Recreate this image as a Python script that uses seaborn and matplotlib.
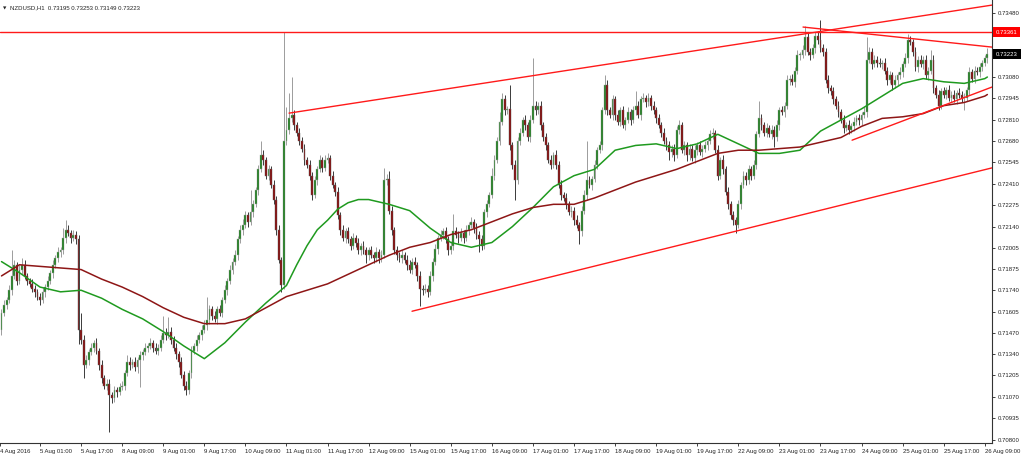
import numpy as np
import pandas as pd
import matplotlib
matplotlib.use("Agg")
import matplotlib.pyplot as plt
import matplotlib.transforms as mtransforms
import seaborn as sns

# NZDUSD H1, one close per hourly bar (open = previous close)
first_bar = -15
first_open = 0.7149
closes = [
    0.7160, 0.7165, 0.7168, 0.7174, 0.7183, 0.7190, 0.7180, 0.7187, 0.7190, 0.7183, 0.7180, 0.7178, 0.7175, 0.7173, 0.7170,
    0.7168, 0.7173, 0.7176, 0.7180, 0.7185, 0.7190, 0.7194, 0.7198, 0.7199, 0.7207, 0.7212, 0.7210, 0.7207, 0.7209, 0.7206, 0.7149,
    0.7143, 0.7127, 0.7130, 0.7135, 0.7138, 0.7141, 0.7136, 0.7127, 0.7119, 0.7114, 0.7115, 0.7108, 0.7106, 0.7111, 0.7110, 0.7113,
    0.7114, 0.7122, 0.7129, 0.7127, 0.7129, 0.7126, 0.7130, 0.7133, 0.7135, 0.7138, 0.7139, 0.7141, 0.7138, 0.7136, 0.7138, 0.7143,
    0.7147, 0.7146, 0.7148, 0.7143, 0.7138, 0.7134, 0.7129, 0.7121, 0.7114, 0.7111, 0.7122, 0.7136, 0.7139, 0.7143, 0.7146, 0.7149,
    0.7152, 0.7155, 0.7162, 0.7158, 0.7156, 0.7162, 0.7160, 0.7168, 0.7174, 0.7180, 0.7187, 0.7192, 0.7196, 0.7206, 0.7212, 0.7215,
    0.7221, 0.7217, 0.7223, 0.7228, 0.7237, 0.7250, 0.7259, 0.7256, 0.7246, 0.7250, 0.7240, 0.7231, 0.7212, 0.7193, 0.7177, 0.7268,
    0.7275, 0.7282, 0.7284, 0.7278, 0.7273, 0.7268, 0.7263, 0.7256, 0.7253, 0.7246, 0.7234, 0.7243, 0.7250, 0.7256, 0.7251, 0.7256,
    0.7257, 0.7246, 0.7240, 0.7236, 0.7221, 0.7212, 0.7207, 0.7211, 0.7206, 0.7202, 0.7207, 0.7204, 0.7199, 0.7202, 0.7199, 0.7196,
    0.7199, 0.7196, 0.7194, 0.7198, 0.7194, 0.7196, 0.7243, 0.7244, 0.7224, 0.7212, 0.7199, 0.7196, 0.7194, 0.7196, 0.7193, 0.7190,
    0.7187, 0.7192, 0.7190, 0.7183, 0.7175, 0.7174, 0.7175, 0.7173, 0.7183, 0.7192, 0.7200, 0.7207, 0.7209, 0.7211, 0.7206, 0.7199,
    0.7202, 0.7211, 0.7209, 0.7207, 0.7210, 0.7207, 0.7212, 0.7215, 0.7217, 0.7213, 0.7209, 0.7206, 0.7202, 0.7223, 0.7228, 0.7234,
    0.7246, 0.7256, 0.7268, 0.7280, 0.7294, 0.7287, 0.7288, 0.7265, 0.7253, 0.7243, 0.7268, 0.7273, 0.7281, 0.7278, 0.7270, 0.7281,
    0.7290, 0.7287, 0.7290, 0.7278, 0.7270, 0.7265, 0.7256, 0.7253, 0.7259, 0.7253, 0.7240, 0.7234, 0.7232, 0.7228, 0.7223, 0.7224,
    0.7218, 0.7215, 0.7211, 0.7224, 0.7234, 0.7243, 0.7240, 0.7244, 0.7253, 0.7262, 0.7265, 0.7287, 0.7303, 0.7287, 0.7284, 0.7294,
    0.7284, 0.7280, 0.7287, 0.7278, 0.7281, 0.7286, 0.7281, 0.7287, 0.7290, 0.7284, 0.7294, 0.7295, 0.7292, 0.7295, 0.7290, 0.7287,
    0.7282, 0.7278, 0.7273, 0.7268, 0.7265, 0.7261, 0.7263, 0.7259, 0.7275, 0.7278, 0.7262, 0.7265, 0.7259, 0.7263, 0.7257, 0.7262,
    0.7265, 0.7261, 0.7263, 0.7265, 0.7268, 0.7272, 0.7273, 0.7262, 0.7246, 0.7256, 0.7250, 0.7236, 0.7228, 0.7221, 0.7218, 0.7215,
    0.7228, 0.7240, 0.7246, 0.7243, 0.7250, 0.7246, 0.7253, 0.7272, 0.7282, 0.7278, 0.7273, 0.7276, 0.7272, 0.7275, 0.7270, 0.7278,
    0.7287, 0.7286, 0.7290, 0.7306, 0.7307, 0.7305, 0.7312, 0.7322, 0.7322, 0.7325, 0.7333, 0.7324, 0.7322, 0.7326, 0.7334, 0.7331,
    0.7326, 0.7324, 0.7306, 0.7301, 0.7299, 0.7294, 0.7290, 0.7286, 0.7281, 0.7276, 0.7278, 0.7275, 0.7277, 0.7280, 0.7282, 0.7281,
    0.7284, 0.7286, 0.7319, 0.7324, 0.7316, 0.7319, 0.7317, 0.7316, 0.7317, 0.7312, 0.7306, 0.7309, 0.7303, 0.7306, 0.7309, 0.7311,
    0.7316, 0.7320, 0.7331, 0.7330, 0.7324, 0.7314, 0.7319, 0.7316, 0.7319, 0.7309, 0.7312, 0.7319, 0.7301, 0.7297, 0.7290, 0.7299,
    0.7297, 0.7300, 0.7295, 0.7297, 0.7294, 0.7298, 0.7297, 0.7295, 0.7295, 0.7300, 0.7311, 0.7307, 0.7312, 0.7311, 0.7314, 0.7317,
    0.7320, 0.73223,
]
# wick lengths above / below the body, in pips
wick_up = [
    2, 3, 2, 3, 16, 3, 2, 3, 4, 3, 2, 2, 3, 2, 2,
    2, 3, 2, 3, 2, 3, 2, 3, 2, 6, 6, 3, 2, 3, 2, 3,
    11, 3, 3, 2, 3, 2, 3, 2, 3, 2, 3, 3, 2, 3, 2, 3,
    3, 2, 4, 3, 2, 3, 2, 3, 2, 3, 2, 3, 2, 3, 2, 3,
    11, 3, 9, 3, 2, 3, 2, 3, 2, 3, 2, 3, 2, 3, 2, 3,
    3, 15, 3, 2, 3, 2, 3, 2, 3, 2, 3, 2, 3, 2, 3, 4,
    3, 2, 14, 3, 2, 3, 9, 3, 2, 3, 2, 3, 2, 3, 2, 68,
    14, 16, 24, 3, 2, 3, 2, 3, 2, 3, 2, 3, 2, 3, 2, 3,
    3, 2, 3, 2, 3, 2, 3, 2, 3, 2, 3, 2, 3, 2, 3, 2,
    2, 3, 2, 3, 2, 3, 8, 3, 5, 3, 2, 3, 2, 3, 2, 3,
    3, 2, 3, 2, 3, 2, 3, 2, 3, 2, 3, 2, 3, 2, 3, 2,
    3, 11, 3, 2, 3, 2, 3, 2, 3, 2, 3, 2, 3, 2, 3, 2,
    5, 3, 2, 6, 4, 3, 2, 15, 2, 3, 2, 3, 2, 3, 2, 3,
    30, 3, 2, 3, 2, 3, 2, 3, 2, 3, 2, 3, 2, 3, 2, 3,
    2, 3, 2, 3, 3, 25, 3, 2, 3, 2, 3, 2, 6, 3, 2, 3,
    2, 3, 2, 3, 2, 3, 2, 3, 9, 3, 2, 3, 2, 3, 2, 3,
    2, 3, 2, 3, 2, 3, 2, 3, 2, 3, 2, 3, 2, 3, 2, 3,
    2, 3, 2, 3, 2, 3, 3, 2, 3, 2, 3, 2, 3, 2, 3, 2,
    3, 2, 3, 2, 3, 2, 3, 2, 11, 3, 2, 3, 2, 3, 2, 3,
    2, 3, 2, 3, 2, 3, 2, 3, 2, 3, 7, 3, 2, 3, 2, 3,
    13, 3, 2, 3, 2, 3, 2, 3, 2, 3, 2, 3, 2, 3, 2, 3,
    2, 3, 14, 3, 2, 3, 2, 3, 2, 3, 2, 3, 2, 3, 2, 3,
    2, 3, 4, 3, 2, 3, 2, 3, 2, 3, 2, 6, 3, 2, 3, 2,
    3, 2, 3, 2, 3, 2, 3, 2, 3, 2, 3, 2, 3, 2, 3, 2,
    2, 4,
]
wick_dn = [
    3, 2, 3, 2, 3, 2, 3, 2, 3, 2, 3, 2, 2, 3, 2,
    3, 2, 3, 2, 2, 3, 2, 2, 3, 2, 3, 2, 3, 2, 3, 9,
    3, 8, 2, 3, 2, 3, 2, 3, 3, 2, 3, 23, 3, 2, 3, 2,
    2, 3, 2, 3, 2, 3, 4, 17, 3, 2, 3, 2, 3, 2, 3, 2,
    2, 3, 2, 3, 2, 3, 3, 2, 3, 3, 2, 3, 2, 3, 2, 3,
    2, 3, 2, 3, 2, 3, 2, 3, 2, 3, 2, 3, 2, 3, 2, 3,
    2, 3, 2, 3, 2, 3, 2, 3, 2, 3, 2, 3, 3, 2, 4, 2,
    3, 3, 2, 3, 2, 3, 2, 3, 2, 3, 3, 2, 3, 2, 3, 2,
    2, 3, 2, 3, 2, 3, 2, 3, 2, 3, 2, 3, 2, 3, 2, 5,
    3, 2, 3, 2, 3, 2, 2, 3, 2, 3, 2, 3, 2, 3, 2, 3,
    2, 3, 2, 3, 11, 3, 2, 3, 2, 3, 2, 3, 2, 3, 2, 3,
    2, 3, 2, 3, 2, 3, 2, 3, 2, 3, 3, 8, 3, 2, 3, 2,
    2, 3, 2, 3, 2, 3, 2, 3, 3, 12, 2, 3, 2, 3, 2, 3,
    2, 3, 2, 3, 2, 3, 2, 3, 2, 3, 2, 3, 2, 3, 2, 3,
    3, 2, 8, 3, 2, 3, 2, 3, 2, 3, 2, 3, 2, 3, 2, 3,
    3, 2, 3, 2, 3, 2, 3, 2, 3, 2, 3, 2, 3, 2, 3, 2,
    3, 2, 3, 2, 3, 5, 3, 4, 2, 3, 2, 3, 4, 3, 2, 3,
    3, 2, 3, 2, 3, 2, 3, 2, 3, 2, 3, 2, 3, 2, 3, 5,
    2, 3, 2, 3, 2, 3, 2, 3, 2, 3, 2, 3, 2, 3, 6, 2,
    3, 2, 3, 2, 3, 2, 3, 2, 3, 2, 3, 2, 3, 2, 3, 2,
    2, 3, 2, 3, 2, 3, 2, 3, 2, 3, 2, 3, 2, 3, 2, 3,
    3, 2, 3, 2, 3, 2, 3, 2, 3, 2, 3, 2, 3, 2, 3, 2,
    3, 2, 3, 2, 3, 2, 3, 2, 3, 2, 3, 2, 3, 2, 3, 2,
    2, 3, 2, 3, 2, 3, 2, 3, 8, 2, 3, 2, 3, 2, 3, 2,
    2, 3,
]

# moving averages at these bars
ma_bars = [-15, -8, 0, 8, 16, 24, 32, 40, 48, 56, 60, 64, 68, 72, 80, 88, 96, 100,
           104, 108, 112, 116, 120, 124, 128, 136, 144, 152, 160, 168, 176, 184, 192,
           200, 208, 216, 224, 232, 240, 248, 256, 264, 272, 280, 288, 296, 304, 312,
           320, 328, 336, 344, 352, 360, 368, 369]
ma_fast = [0.7192, 0.7185, 0.7176, 0.7173, 0.7174, 0.7169, 0.7162, 0.7156, 0.7148, 0.7139,
           0.7135, 0.7131, 0.7136, 0.7141, 0.7154, 0.7166, 0.7177, 0.7190,
           0.7202, 0.7212, 0.7218, 0.7225, 0.7229, 0.7231, 0.7231, 0.7228, 0.7224, 0.7213,
           0.7204, 0.7201, 0.7204, 0.7214, 0.7226, 0.7239, 0.7246, 0.7250,
           0.7262, 0.7265, 0.7266, 0.7263, 0.7266, 0.7272, 0.7266, 0.7260, 0.7260, 0.7262,
           0.7274, 0.7281, 0.7288, 0.7296, 0.7304, 0.7307, 0.7305, 0.7304, 0.7307, 0.7308]
ma_slow = [0.7183, 0.7190, 0.7189, 0.7188, 0.7187, 0.7181, 0.7176, 0.7170, 0.7163, 0.7157,
           0.7155, 0.7153, 0.7153, 0.7153, 0.7156, 0.7163, 0.7170, 0.7172,
           0.7174, 0.7176, 0.7178, 0.7181, 0.7184, 0.7187, 0.7190, 0.7196, 0.7201, 0.7204,
           0.7209, 0.7212, 0.7217, 0.7222, 0.7226, 0.7228, 0.7228, 0.7232,
           0.7237, 0.7242, 0.7246, 0.7250, 0.7255, 0.7260, 0.7262, 0.7262, 0.7263, 0.7264,
           0.7267, 0.7270, 0.7277, 0.7282, 0.7283, 0.7285, 0.7290, 0.7292, 0.7296, 0.7297]

# hand-drawn objects: (bar, price) end points
level_price = 0.73361
channel_top = ([97.0, 370.8], [0.72853, 0.73532])
channel_bottom = ([144.9, 370.8], [0.71608, 0.72509])
wedge_top = ([297.2, 370.8], [0.73394, 0.73268])
wedge_bottom = ([316.3, 370.8], [0.72683, 0.73017])

tick_bars = [-15.5] + list(range(0, 369, 16))
tick_labels = ["4 Aug 2016", "5 Aug 01:00", "5 Aug 17:00", "8 Aug 09:00", "9 Aug 01:00",
               "9 Aug 17:00", "10 Aug 09:00", "11 Aug 01:00", "11 Aug 17:00", "12 Aug 09:00",
               "15 Aug 01:00", "15 Aug 17:00", "16 Aug 09:00", "17 Aug 01:00", "17 Aug 17:00",
               "18 Aug 09:00", "19 Aug 01:00", "19 Aug 17:00", "22 Aug 09:00", "23 Aug 01:00",
               "23 Aug 17:00", "24 Aug 09:00", "25 Aug 01:00", "25 Aug 17:00", "26 Aug 09:00"]
price_ticks = [0.73480, 0.73345, 0.73215, 0.73080, 0.72945, 0.72810, 0.72680, 0.72545,
               0.72410, 0.72275, 0.72140, 0.72005, 0.71875, 0.71740, 0.71605, 0.71470,
               0.71340, 0.71205, 0.71070, 0.70935, 0.70800]
# these two scale labels sit under the price markers
hidden_ticks = [0.73345, 0.73215]

c = np.array(closes)
o = np.r_[first_open, c[:-1]]
df = pd.DataFrame({
    "bar": np.arange(first_bar, first_bar + len(c)),
    "open": o,
    "close": c,
    "high": np.maximum(o, c) + np.array(wick_up) * 0.0001,
    "low": np.minimum(o, c) - np.array(wick_dn) * 0.0001,
})
ma = pd.DataFrame({"bar": ma_bars, "fast": ma_fast, "slow": ma_slow})

sns.set_theme(style="white")
plt.rcParams["font.family"] = ["Liberation Sans", "DejaVu Sans"]
fs = 4.3

fig = plt.figure(figsize=(10.24, 4.54), dpi=100)
ax = fig.add_axes([0, 11 / 454, 992 / 1024, 443 / 454])

up = df["close"] >= df["open"]
ax.vlines(df["bar"], df["low"], df["high"],
          colors=np.where(up, "#9c9c9c", "#3a3a3a"), linewidth=0.7, zorder=2)
ax.bar(df["bar"], np.maximum((df["close"] - df["open"]).abs(), 0.00004),
       bottom=np.minimum(df["open"], df["close"]), width=0.72,
       color=np.where(up, "#177a17", "#8a0c0c"),
       edgecolor=np.where(up, "#a8a8a8", "#5a5a5a"), linewidth=0.3, zorder=3)

sns.lineplot(data=ma, x="bar", y="fast", ax=ax, color="#1f9a1f", linewidth=1.1,
             estimator=None, zorder=4)
sns.lineplot(data=ma, x="bar", y="slow", ax=ax, color="#8e1616", linewidth=1.1,
             estimator=None, zorder=4)

red = "#ff1a1a"
ax.axhline(level_price, color=red, linewidth=1.0, zorder=5)
for xs, ys in [channel_top, channel_bottom, wedge_top, wedge_bottom]:
    ax.plot(xs, ys, color=red, linewidth=1.0, zorder=5)

ax.set_xlim(-15.58, 370.8)
ax.set_ylim(0.70780, 0.73564)
ax.set_xlabel("")
ax.set_ylabel("")

ax.yaxis.tick_right()
ax.set_yticks(price_ticks)
ax.set_yticklabels(["" if p in hidden_ticks else f"{p:.5f}" for p in price_ticks])
ax.tick_params(axis="y", direction="out", length=2.5, width=0.6, pad=1.5,
               labelsize=fs, colors="#222222", right=True, left=False)
ax.set_xticks(tick_bars)
ax.set_xticklabels(tick_labels)
for lab in ax.get_xticklabels():
    lab.set_horizontalalignment("left")
ax.tick_params(axis="x", direction="out", length=2.5, width=0.6, pad=1.5,
               labelsize=fs, colors="#222222", bottom=True)

for side in ["left", "top"]:
    ax.spines[side].set_visible(False)
for side in ["right", "bottom"]:
    ax.spines[side].set_color("#333333")
    ax.spines[side].set_linewidth(0.8)

# price markers on the right scale
trans = mtransforms.blended_transform_factory(ax.transAxes, ax.transData)
off = mtransforms.offset_copy(trans, fig=fig, x=4, y=0, units="dots")
ax.text(1.0, level_price, "0.73361", transform=off, ha="left", va="center",
        fontsize=fs, color="white", clip_on=False, zorder=6,
        bbox=dict(boxstyle="square,pad=0.45", fc="#ff0000", ec="none"))
ax.text(1.0, closes[-1], "0.73223", transform=off, ha="left", va="center",
        fontsize=fs, color="white", clip_on=False, zorder=6,
        bbox=dict(boxstyle="square,pad=0.45", fc="#000000", ec="none"))

fig.text(3 / 1024, 1 - 8 / 454, "\u25bc", fontsize=3.2, va="center", color="#222222",
         family="DejaVu Sans")
fig.text(10 / 1024, 1 - 8 / 454, "NZDUSD,H1  0.73195 0.73253 0.73149 0.73223",
         fontsize=fs, va="center", color="#222222")

fig.savefig("out.png", dpi=100, facecolor="white")
